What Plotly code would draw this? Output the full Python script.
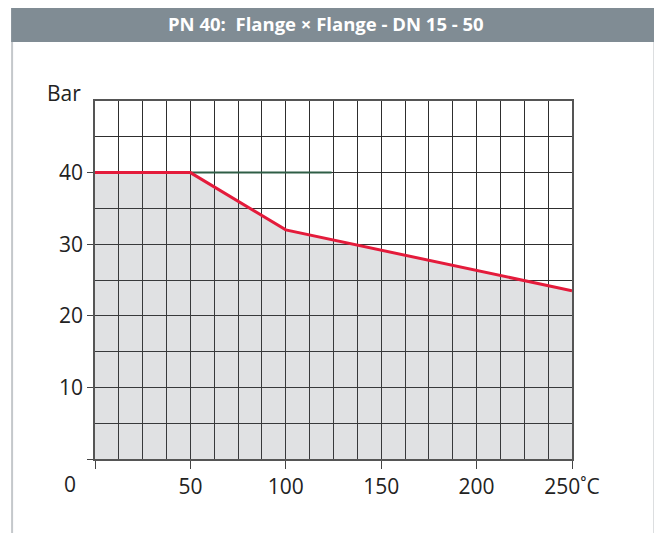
import plotly.graph_objects as go

# ---- data ----
temperature = [0, 50, 100, 250]
pressure = [40, 40, 32, 23.5]
ref_temperature = [50, 124]
ref_pressure = [40, 40]
x_tickvals = [0, 50, 100, 150, 200, 250]
x_ticktext = ["", "50", "100", "150", "200", "250˚C"]
y_tickvals = [0, 10, 20, 30, 40]
y_ticktext = ["", "10", "20", "30", "40"]
title_text = "PN 40:  Flange × Flange - DN 15 - 50"

OFF = 8  # page body margin
W, H = 662 - OFF, 533 - OFF
L, R, T, B = 95 - OFF, 572.5 - OFF, 101 - OFF, 459 - OFF
FONT = "Open Sans"
GRID = "#2e2e2e"


def px(p):
    return (p - OFF - L) / (R - L)


def py(p):
    return (B - (p - OFF)) / (B - T)


fig = go.Figure()
fig.add_trace(go.Scatter(
    x=temperature, y=pressure, mode="lines", line=dict(width=0),
    fill="tozeroy", fillcolor="rgba(100,105,115,0.2)", hoverinfo="skip",
    showlegend=False))
fig.add_trace(go.Scatter(
    x=ref_temperature, y=ref_pressure, mode="lines",
    line=dict(color="#2f5e46", width=2), showlegend=False))
fig.add_trace(go.Scatter(
    x=temperature, y=pressure, mode="lines",
    line=dict(color="#e41b3b", width=3), showlegend=False))

fig.update_xaxes(
    range=[0, 250], tickvals=x_tickvals, ticktext=x_ticktext,
    ticks="outside", ticklen=8, tickwidth=1.2, tickcolor="#444",
    showgrid=True, gridcolor=GRID, gridwidth=1,
    minor=dict(dtick=12.5, tick0=0, showgrid=True, gridcolor=GRID, gridwidth=1, ticks=""),
    showline=True, mirror=True, linecolor="#555", linewidth=1.5,
    zeroline=False, tickfont=dict(family=FONT, size=21, color="#222"),
    fixedrange=True)
fig.update_yaxes(
    range=[0, 50], tickvals=y_tickvals, ticktext=y_ticktext,
    ticks="outside", ticklen=6, tickwidth=1.2, tickcolor="#444",
    showgrid=True, gridcolor=GRID, gridwidth=1,
    minor=dict(dtick=5, tick0=0, showgrid=True, gridcolor=GRID, gridwidth=1, ticks=""),
    showline=True, mirror=True, linecolor="#555", linewidth=1.5,
    zeroline=False, tickfont=dict(family=FONT, size=21, color="#222"),
    fixedrange=True)

shapes = [
    dict(type="rect", xref="paper", yref="paper",
         x0=px(11), x1=px(655), y0=py(42), y1=py(4),
         fillcolor="#808c94", line=dict(width=0), layer="below"),
    dict(type="line", xref="paper", yref="paper",
         x0=px(12), x1=px(12), y0=py(42), y1=py(540),
         line=dict(color="#c4c8cb", width=2)),
    dict(type="line", xref="paper", yref="paper",
         x0=px(655), x1=px(655), y0=py(42), y1=py(540),
         line=dict(color="#c4c8cb", width=2)),
]

annotations = [
    dict(text="<b>" + title_text + "</b>", xref="paper", yref="paper",
         x=px(326), y=py(23), showarrow=False,
         font=dict(family=FONT, size=18.5, color="white"),
         xanchor="center", yanchor="middle"),
    dict(text="Bar", xref="paper", yref="paper", x=px(64), y=py(93),
         showarrow=False, font=dict(family=FONT, size=21, color="#222"),
         xanchor="center", yanchor="middle"),
    dict(text="0", xref="paper", yref="paper", x=px(70), y=py(484),
         showarrow=False, font=dict(family=FONT, size=21, color="#222"),
         xanchor="center", yanchor="middle"),
]

fig.update_layout(
    width=W, height=H,
    margin=dict(l=L, r=W - R, t=T, b=H - B),
    paper_bgcolor="white", plot_bgcolor="white",
    shapes=shapes, annotations=annotations, showlegend=False)

fig.write_html("out.html")
